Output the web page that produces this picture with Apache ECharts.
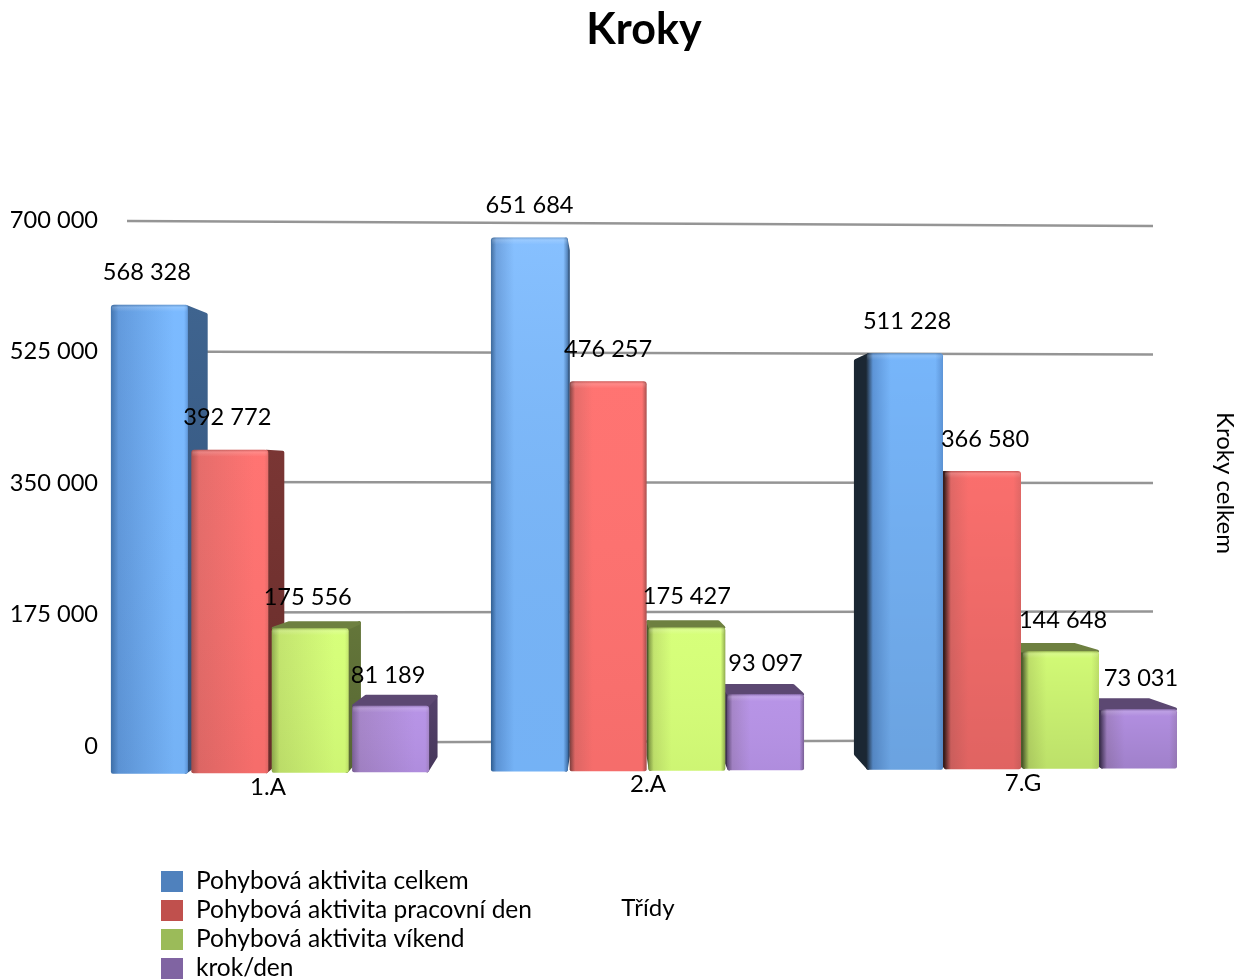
<!DOCTYPE html>
<html>
<head>
<meta charset="utf-8">
<title>Kroky</title>
<style>html,body{margin:0;padding:0;background:#fff}#c{width:1245px;height:980px}</style>
<script src="https://cdn.jsdelivr.net/npm/echarts@6/dist/echarts.min.js"></script>
</head>
<body>
<div id="c"></div>
<script>
// Step counts per school class
const classes = ['1.A', '2.A', '7.G'];
const totalSteps = [568328, 651684, 511228];
const workdaySteps = [392772, 476257, 366580];
const weekendSteps = [175556, 175427, 144648];
const stepsPerDay = [81189, 93097, 73031];
const seriesNames = ['Pohybová aktivita celkem', 'Pohybová aktivita pracovní den', 'Pohybová aktivita víkend', 'krok/den'];
const yTicks = [0, 175000, 350000, 525000, 700000];

const FONT = 'Lato, Carlito, "Open Sans", sans-serif';
const AXIS_MAX = 700000;

// Pseudo-3D view: vanishing point, bar depth, and the plane holding the grid lines
const VP = { x: 609, y: 475 };
const DEPTH = 0.047;
const BASE_Y = 771;
const BAR_W = 77;
const SPACING = [80.4, 78.7, 78];
const GROUP_SHIFT = [0, 1.5, -0.5];
const LABEL_SHIFT = [-2.5, 0, 2.5];
const CORNER = 1.75;

const palette = [
  { legend: '#4f81bd', edge: '#2f5f95', dark: '#3f72ad', mid: '#5f98dc', light: '#79b9ff', top: '#3d6a9c', side: ['#3f648f', '#2f4f78'], sideFar: '#1b2733' },
  { legend: '#c0504d', edge: '#7e3f3e', dark: '#a84e4c', mid: '#e56a68', light: '#ff716f', top: '#8a3d3b', side: ['#7a3634', '#662c2a'], sideFar: '#3a1d1c' },
  { legend: '#9bbb59', edge: '#7b9340', dark: '#8eaa4c', mid: '#c2e46c', light: '#d6ff78', top: '#6e8040', side: ['#64763a', '#566632'], sideFar: '#4d5c2c' },
  { legend: '#8064a2', edge: '#5f4a78', dark: '#7b6097', mid: '#a584c8', light: '#b692e6', top: '#5c4872', side: ['#55426c', '#46375a'], sideFar: '#3f3152' }
];

// Gentle rotation of the whole scene: the base rises and heights shrink from left to right
function tilt(x, y) {
  const dx = x - 646;
  const baseY = BASE_Y - dx * 0.0053;
  return baseY + (y - BASE_Y) * (1 - dx * 0.000017);
}
function toBack(x, y, k) {
  return [x + k * (VP.x - x), y + k * (VP.y - y)];
}
function formatValue(v) {
  return String(v).replace(/\B(?=(\d{3})+$)/g, ' ');
}
function frontFill(p, cat) {
  const stops = cat === 0
    ? [[0, p.dark], [0.1, p.mid], [0.82, p.light], [0.95, p.light], [1, p.mid]]
    : cat === 1
      ? [[0, p.edge], [0.07, p.mid], [0.3, p.light], [0.94, p.light], [1, p.dark]]
      : [[0, p.sideFar], [0.09, p.mid], [0.32, p.light], [0.9, p.light], [1, p.mid]];
  return new echarts.graphic.LinearGradient(0, 0, 1, 0, stops.map(s => ({ offset: s[0], color: s[1] })));
}

function renderBar(params, api) {
  const s = params.seriesIndex - 1;
  const cat = api.value(0);
  const value = api.value(1);
  const p = palette[s];
  const c = api.coord([cat, value]);
  const c0 = api.coord([cat, 0]);
  const cx = c[0] + GROUP_SHIFT[cat] + (s - 1.5) * SPACING[cat];
  const x0 = cx - BAR_W / 2, x1 = cx + BAR_W / 2;
  const top = tilt(cx, c[1]);
  const bot = tilt(cx, c0[1]);
  const bTL = toBack(x0, top, DEPTH), bTR = toBack(x1, top, DEPTH);
  const bBL = toBack(x0, bot, DEPTH), bBR = toBack(x1, bot, DEPTH);
  const sideColor = new echarts.graphic.LinearGradient(0, 0, 0, 1, [
    { offset: 0, color: p.side[0] }, { offset: 1, color: p.side[1] }]);
  const children = [];
  // faces are inset by CORNER and stroked round, which softens their outer corners
  const face = (pts, fill) => ({
    type: 'polygon', z2: 1, shape: { points: pts },
    style: { fill: fill, stroke: fill, lineWidth: CORNER * 2, lineJoin: 'round' }
  });
  // hidden-surface order: side and top faces first, every front face above them
  if (bTR[0] > x1) children.push(face([
    [x1 - 2, top + CORNER], [bTR[0] - CORNER, bTR[1] + CORNER],
    [bBR[0] - CORNER, bBR[1] - CORNER], [x1 - 2, bot - CORNER]], sideColor));
  if (bTL[0] < x0) children.push(face([
    [x0 + 2, top + CORNER], [bTL[0] + CORNER, bTL[1] + CORNER],
    [bBL[0] + CORNER, bBL[1] - CORNER], [x0 + 2, bot - CORNER]], p.sideFar));
  if (bTL[1] < top) children.push(face([
    [x0 + CORNER, top], [bTL[0] + CORNER, bTL[1] + CORNER],
    [bTR[0] - CORNER, bTR[1] + CORNER], [x1 - CORNER, top]], p.top));
  children.push({
    type: 'rect', z2: 10, shape: { x: x0, y: top, width: BAR_W, height: bot - top, r: [3, 3, 2, 2] },
    style: { fill: frontFill(p, cat) }
  });
  // soft bevel along the top and a shade that deepens to the right-hand group
  children.push({
    type: 'rect', z2: 11, shape: { x: x0 + 1, y: top, width: BAR_W - 2, height: 7, r: [3, 3, 0, 0] },
    style: { fill: new echarts.graphic.LinearGradient(0, 0, 0, 1, [
      { offset: 0, color: 'rgba(0,0,0,0.18)' }, { offset: 0.35, color: 'rgba(255,255,255,0.16)' }, { offset: 1, color: 'rgba(255,255,255,0)' }]) }
  });
  const shadeTop = cat === 1 && s === 0 ? 'rgba(255,255,255,0.1)' : cat === 2 ? 'rgba(0,0,0,0.02)' : 'rgba(255,255,255,0.02)';
  const shadeBot = cat === 2 ? 'rgba(0,0,0,0.12)' : 'rgba(0,0,0,0.04)';
  children.push({
    type: 'rect', z2: 11, shape: { x: x0, y: top, width: BAR_W, height: bot - top, r: [3, 3, 2, 2] },
    style: { fill: new echarts.graphic.LinearGradient(0, 0, 0, 1, [
      { offset: 0, color: shadeTop }, { offset: 1, color: shadeBot }]) }
  });
  children.push({
    type: 'text', z2: 100, x: cx + LABEL_SHIFT[cat], y: top - (s >= 2 ? 30.5 : 32),
    style: { text: formatValue(value), font: '23.6px ' + FONT, fill: '#000', align: 'center', verticalAlign: 'middle' }
  });
  return { type: 'group', children: children };
}

// Grid lines sit on the far plane, behind the bars, and fall slightly out of level
function renderGridLine(params, api) {
  const v = api.value(0);
  const front = api.coord([0, v])[1];
  const mid = 741.5 - (BASE_Y - front) * (518 / 572.6);
  const d = -1.5 + 4 * v / AXIS_MAX;
  return {
    type: 'line', z2: 0,
    shape: { x1: 127, y1: mid - d, x2: 1153, y2: mid + d },
    style: { stroke: '#959595', lineWidth: 2.6 }
  };
}

const valuesBySeries = [totalSteps, workdaySteps, weekendSteps, stepsPerDay];

const option = {
  backgroundColor: '#fff',
  animation: false,
  title: {
    text: 'Kroky', left: 644, top: 9, textAlign: 'center', padding: 0,
    textStyle: { fontFamily: FONT, fontSize: 43, fontWeight: 'bold', color: '#000' }
  },
  legend: {
    orient: 'vertical', left: 161, bottom: -1, padding: 0, itemWidth: 22, itemHeight: 21, itemGap: 4,
    icon: 'rect', data: seriesNames, selectedMode: false,
    textStyle: { fontFamily: FONT, fontSize: 24.5, color: '#000', padding: [0, 0, 0, 8] }
  },
  grid: [
    { left: 82, top: 198.4, width: 1128, height: 572.6 },
    { left: 108, top: 220, width: 1092, height: 526 }
  ],
  xAxis: [
    {
      gridIndex: 0, type: 'category', data: classes,
      axisLine: { show: false }, axisTick: { show: false }, splitLine: { show: false },
      axisLabel: {
        margin: 0,
        formatter: (v, i) => '{c' + i + '|' + v + '}',
        rich: {
          c0: { fontFamily: FONT, fontSize: 24, color: '#000', padding: [4, 4, 0, 0] },
          c1: { fontFamily: FONT, fontSize: 24, color: '#000', padding: [1, 0, 0, 4] },
          c2: { fontFamily: FONT, fontSize: 24, color: '#000', padding: [0, 0, 0, 2] }
        }
      },
      name: 'Třídy', nameLocation: 'middle', nameGap: 125,
      nameTextStyle: { fontFamily: FONT, fontSize: 24, color: '#000', padding: [0, 0, 0, 4] }
    },
    { gridIndex: 1, type: 'value', min: 0, max: 1, show: false }
  ],
  yAxis: [
    { gridIndex: 0, type: 'value', min: 0, max: AXIS_MAX, show: false, splitLine: { show: false } },
    {
      gridIndex: 1, type: 'value', min: 0, max: AXIS_MAX, interval: 175000, position: 'left',
      axisLine: { show: false }, axisTick: { show: false }, splitLine: { show: false },
      axisLabel: { margin: 10, fontFamily: FONT, fontSize: 23.6, color: '#000', formatter: formatValue }
    },
    {
      gridIndex: 1, type: 'value', min: 0, max: AXIS_MAX, position: 'right',
      axisLine: { show: false }, axisTick: { show: false }, splitLine: { show: false },
      axisLabel: { show: false },
      name: 'Kroky celkem', nameLocation: 'middle', nameGap: 29, nameRotate: -90,
      nameTextStyle: { fontFamily: FONT, fontSize: 24, color: '#000' }
    }
  ],
  series: [
    {
      type: 'custom', name: 'grid', xAxisIndex: 0, yAxisIndex: 0, silent: true,
      data: yTicks.map(v => [v]), encode: { x: [], y: 0 }, renderItem: renderGridLine
    }
  ].concat(seriesNames.map((name, s) => ({
    type: 'custom', name: name, xAxisIndex: 0, yAxisIndex: 0,
    itemStyle: { color: palette[s].legend },
    data: valuesBySeries[s].map((v, i) => [i, v]),
    encode: { x: 0, y: 1 }, renderItem: renderBar
  })))
};

echarts.init(document.getElementById('c')).setOption(option);
</script>
</body>
</html>
